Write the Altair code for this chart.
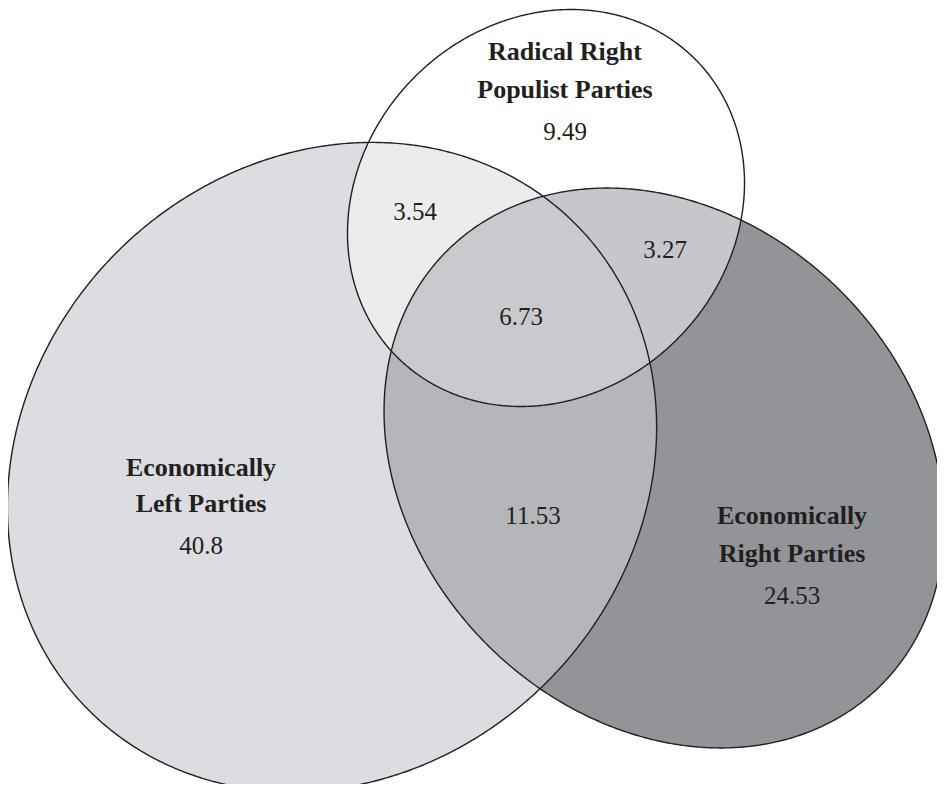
import numpy as np
import pandas as pd
import altair as alt

# ---------------- data ----------------
set_keys = ["L", "R", "T"]
set_name_lines = [
    ["Economically", "Left Parties"],
    ["Economically", "Right Parties"],
    ["Radical Right", "Populist Parties"],
]
region_keys = ["L", "R", "T", "LR", "LT", "TR", "LTR"]
region_values = ["40.8", "24.53", "9.49", "11.53", "3.54", "3.27", "6.73"]

# ---------------- styling / layout ----------------
region_colors = {
    "L": "#dcdde0",
    "R": "#939498",
    "T": "#ffffff",
    "LR": "#b5b6b9",
    "LT": "#ebeceb",
    "TR": "#c6c7ca",
    "LTR": "#c9cacd",
}
# ellipse geometry in picture pixels: cx, cy, semi-major, semi-minor, angle (deg, screen)
shapes = {
    "L": (332, 467, 344, 304, -45),
    "R": (664, 468, 307, 250, 45),
    "T": (546, 208, 210.7, 185.5, -45),
}
# label anchor positions (centre x, baseline y)
name_pos = {"L": (201, [476, 512]), "R": (792, [524, 562]), "T": (565, [60, 98])}
value_pos = {
    "L": (201, 554), "R": (792, 604), "T": (565, 140), "LR": (533, 524),
    "LT": (415, 220), "TR": (665, 258), "LTR": (521, 325),
}
INK = "#231f20"
FONT = "Liberation Serif"

W, H, M = 945, 792, 8
xscale = alt.Scale(domain=[M, W - M], nice=False, zero=False)
yscale = alt.Scale(domain=[M, H - M], nice=False, zero=False, reverse=True)


def interval(key, xs):
    cx, cy, a, b, th = shapes[key]
    t = np.radians(th)
    c, s = np.cos(t), np.sin(t)
    dx = xs - cx
    A = s * s / a**2 + c * c / b**2
    B = 2 * dx * c * s * (1 / a**2 - 1 / b**2)
    C = dx**2 * (c * c / a**2 + s * s / b**2) - 1
    disc = B * B - 4 * A * C
    ext = np.sqrt(a * a * c * c + b * b * s * s)
    inside = (dx >= -ext - 1e-9) & (dx <= ext + 1e-9)
    disc = np.where(inside, np.clip(disc, 0, None), np.nan)
    r = np.sqrt(disc)
    lo = cy + (-B - r) / (2 * A)
    hi = cy + (-B + r) / (2 * A)
    return lo, hi


xs = list(np.arange(0, W + 0.001, 0.5))
for k in set_keys:
    cx, cy, a, b, th = shapes[k]
    t = np.radians(th)
    ext = np.sqrt(a * a * np.cos(t) ** 2 + b * b * np.sin(t) ** 2)
    xs += [cx - ext, cx + ext]
xs = np.unique(np.array(xs))
ints = {k: interval(k, xs) for k in set_keys}

layers = []
for rk in region_keys:
    los = np.vstack([ints[k][0] for k in rk])
    his = np.vstack([ints[k][1] for k in rk])
    lo = np.max(los, axis=0)
    hi = np.min(his, axis=0)
    ok = np.isfinite(lo) & np.isfinite(hi) & (hi >= lo)
    df = pd.DataFrame({"x": xs[ok], "y": lo[ok], "y2": hi[ok]})
    layers.append(
        alt.Chart(df)
        .mark_area(color=region_colors[rk], clip=True, interpolate="linear", strokeWidth=0)
        .encode(
            x=alt.X("x:Q", scale=xscale, axis=None),
            y=alt.Y("y:Q", scale=yscale, axis=None),
            y2="y2:Q",
        )
    )

# outlines
rows = []
tt = np.linspace(0, 2 * np.pi, 721)
for k in set_keys:
    cx, cy, a, b, th = shapes[k]
    t = np.radians(th)
    u, v = a * np.cos(tt), b * np.sin(tt)
    px = cx + u * np.cos(t) - v * np.sin(t)
    py = cy + u * np.sin(t) + v * np.cos(t)
    for i in range(len(tt)):
        rows.append({"shape": k, "i": i, "x": px[i], "y": py[i]})
outline = (
    alt.Chart(pd.DataFrame(rows))
    .mark_line(color=INK, strokeWidth=1.4, clip=True)
    .encode(
        x=alt.X("x:Q", scale=xscale, axis=None),
        y=alt.Y("y:Q", scale=yscale, axis=None),
        detail="shape:N",
        order="i:Q",
    )
)

# texts
name_rows = []
for k, lines in zip(set_keys, set_name_lines):
    x0, ys_ = name_pos[k]
    for ln, yb in zip(lines, ys_):
        name_rows.append({"x": x0, "y": yb, "text": ln})
value_rows = [
    {"x": value_pos[k][0], "y": value_pos[k][1], "text": v}
    for k, v in zip(region_keys, region_values)
]
names = (
    alt.Chart(pd.DataFrame(name_rows))
    .mark_text(font=FONT, fontSize=26, fontWeight="bold", color=INK,
               align="center", baseline="alphabetic")
    .encode(x=alt.X("x:Q", scale=xscale, axis=None),
            y=alt.Y("y:Q", scale=yscale, axis=None), text="text:N")
)
values = (
    alt.Chart(pd.DataFrame(value_rows))
    .mark_text(font=FONT, fontSize=25, color=INK,
               align="center", baseline="alphabetic")
    .encode(x=alt.X("x:Q", scale=xscale, axis=None),
            y=alt.Y("y:Q", scale=yscale, axis=None), text="text:N")
)

chart = (
    alt.layer(*layers, outline, names, values)
    .properties(width=W - 2 * M, height=H - 2 * M, padding=0)
    .configure_view(stroke=None)
)
chart.save("out.html", embed_options={"renderer": "svg", "actions": False})
